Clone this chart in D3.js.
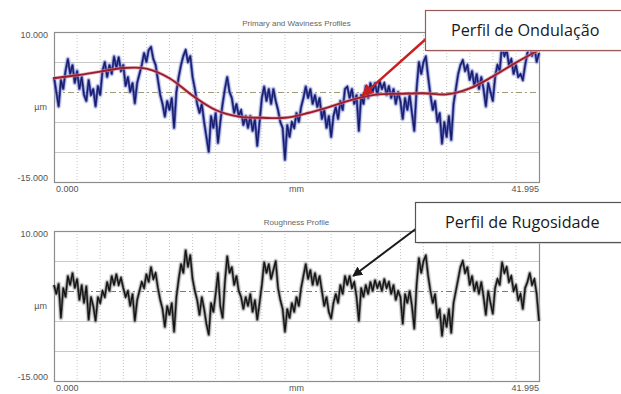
<!DOCTYPE html>
<html>
<head>
<meta charset="utf-8">
<script src="https://cdn.jsdelivr.net/npm/d3@7"></script>
<style>
  html, body { margin: 0; padding: 0; background: #fff; }
  svg { display: block; font-family: Arial, "Liberation Sans", sans-serif; }
</style>
</head>
<body>
<svg id="chart" width="621" height="394"></svg>
<script>
// Evaluation length (mm) and amplitude range (µm)
const lengthMm = 41.995;
const yDomain = [-15, 10];
const yTickLabels = ["10.000", "-15.000"];
const xTickLabels = ["0.000", "mm", "41.995"];
const panelTitles = ["Primary and Waviness Profiles", "Roughness Profile"];

// Primary profile (µm), evenly spaced along the evaluation length
const primary = [
  2.5, 0.0, -2.4, 2.0, 0.5, 3.5, 5.5, 3.0, 4.5, 1.5, 3.5, 0.5, 2.5, -0.5, -1.5, 2.0, -0.5, 0.5, -2.4, 1.0,
  -0.5, 3.5, 5.0, 2.5, 4.5, 3.0, 5.9, 4.0, 5.8, 3.5, 4.5, 1.0, 2.5, 0.0, 1.5, -1.9, 1.5, 3.0, 4.5, 6.5,
  5.0, 7.0, 7.5, 5.5, 4.5, 2.0, -0.5, -2.0, -4.1, -1.5, -3.0, -1.0, -6.0, 0.0, 2.5, 4.5, 6.0, 7.0, 5.0, 6.0,
  2.5, 0.5, -2.0, -3.5, -2.0, -5.0, -7.5, -10.0, -4.0, -6.0, -3.5, -8.5, -5.0, -2.0, 0.5, 2.5, 0.0, -1.0, -3.5, -2.0,
  -4.0, -3.0, -5.5, -4.0, -6.0, -4.0, -6.5, -4.5, -9.0, -5.0, -1.0, 0.9, -1.5, 0.5, -2.0, 0.5, -1.5, -3.0, -5.0, -6.0,
  -11.3, -5.5, -7.5, -5.0, -6.0, -3.5, -5.0, -2.5, -1.0, 0.9, -1.0, 0.5, -2.0, -0.5, -2.5, -1.0, -4.5, -3.0, -6.0, -4.0,
  -7.5, -4.0, -2.5, -4.5, -1.5, -3.0, 0.5, 0.9, -1.0, 0.5, -2.0, -0.5, -6.5, -0.5, -2.0, 1.0, -1.0, 1.5, 0.0, 1.5,
  -0.5, 1.8, 0.5, 1.5, -0.5, 1.0, -1.0, 0.5, -2.0, 0.0, -1.5, -4.5, -1.0, -3.0, -0.5, -3.5, -6.5, 0.5, 5.0, 3.0,
  5.0, 5.9, 2.5, -0.5, -3.0, -1.5, -5.0, -3.5, -8.6, -5.0, -7.5, -4.0, -8.0, -2.0, 0.5, 3.0, 4.5, 5.3, 3.5, 4.5,
  2.0, 3.5, 1.0, 3.0, 0.5, 2.5, 0.5, -2.4, 1.5, 0.0, -1.5, 2.5, 4.5, 3.5, 8.0, 6.0, 7.0, 4.5, 5.5, 3.0,
  4.5, 2.5, 3.0, 2.0, 4.5, 6.5, 8.0, 6.0, 7.5, 5.0, 6.5
];

// Waviness profile (µm) at 2 mm stations
const wavinessMm = [0, 2, 4, 6, 8, 10, 12, 14, 16, 18, 20, 22, 24, 26, 28, 30, 32, 34, 36, 38, 40, 41.995];
const waviness = [2.3, 2.8, 3.4, 4.0, 3.9, 2.3, -0.6, -3.0, -4.1, -4.3, -4.3, -3.5, -2.4, -1.2, -0.4, -0.3, -0.2, -0.4, 0.6, 2.6, 4.9, 7.0];

// Roughness profile (µm), evenly spaced along the evaluation length
const roughness = [
  1.0, -0.5, 1.2, -4.5, 0.5, -1.0, 2.5, 1.0, 3.0, 0.5, 2.0, -1.5, 1.0, -2.0, 0.8, -4.8, -1.0, -2.5, -5.0, -1.0,
  -2.0, 0.0, -1.0, 1.5, 0.0, 2.5, 1.0, 2.8, 1.0, 2.2, 0.5, -1.0, 0.0, -2.5, -0.5, -5.0, -1.5, 0.0, 1.5, 0.5,
  2.8, 1.5, 4.0, 2.0, 3.0, 0.5, -1.5, -3.0, -6.0, -2.5, -4.0, -2.0, -6.8, -1.0, 2.0, 4.5, 3.0, 6.8, 4.0, 6.0,
  2.0, 0.0, -1.5, -4.0, -1.0, -3.0, -5.5, -7.3, -2.0, -3.5, -0.5, 3.0, -2.5, -4.5, 1.5, 5.8, 3.0, 4.0, 1.0, 2.5,
  0.0, -1.0, -3.0, -1.0, -2.5, -0.5, -3.5, -1.5, -4.8, -2.0, 1.0, 4.8, 3.0, 4.5, 2.0, 3.5, 5.0, 0.5, -1.5, -3.0,
  -6.8, -3.0, -4.5, -2.0, -3.5, -1.0, -2.5, 0.5, 2.5, 4.5, 2.0, 3.5, 1.0, 3.0, 1.0, 2.5, 0.0, -2.5, -1.0, -3.5,
  -4.6, -2.0, -0.5, -2.0, 1.0, -0.5, 2.5, 1.0, 2.5, 0.5, 1.5, -1.0, -5.0, 0.5, -1.0, 1.0, -0.5, 1.5, 0.0, 1.8,
  0.5, 1.5, 0.0, 2.0, 0.5, 1.5, -0.5, 1.0, -1.5, 0.0, -1.0, -5.5, -0.5, -2.0, 0.0, -2.5, -6.3, 1.0, 5.5, 3.0,
  5.0, 5.9, 2.5, 0.0, -2.0, -0.5, -4.5, -3.0, -7.5, -4.0, -6.0, -3.0, -7.0, -2.0, 0.0, 2.0, 4.0, 5.0, 3.0, 4.0,
  1.0, 2.5, 0.0, 1.5, -0.5, 1.5, -1.0, -4.0, 0.0, -2.0, -3.8, 0.5, 2.0, 1.0, 4.8, 3.0, 4.0, 1.5, 2.5, 0.0,
  1.0, -1.5, -0.5, -3.0, 0.5, 1.5, 3.0, 1.0, 2.0, -0.5, -5.0
];

// Call-outs: label, target position along the profile (mm, µm)
const callouts = [
  { label: "Perfil de Ondulação", mm: 26.7, um: -0.6, panel: 0, color: "#c8201e" },
  { label: "Perfil de Rugosidade", mm: 25.9, um: 2.5, panel: 1, color: "#1a1a1a" }
];

const svg = d3.select("#chart");
const margin = { left: 54, right: 539 };
const panels = [
  { top: 32, bottom: 182 },
  { top: 231, bottom: 381 }
];

const x = d3.scaleLinear().domain([0, lengthMm]).range([margin.left, margin.right]);
const ys = panels.map(p => d3.scaleLinear().domain(yDomain).range([p.bottom, p.top]));

const idxX = arr => (d, i) => x(i * lengthMm / (arr.length - 1));

panels.forEach((p, k) => {
  const y = ys[k];
  const g = svg.append("g");

  // vertical grid every 2 mm
  g.append("g").selectAll("line")
    .data(d3.range(2, lengthMm, 2))
    .join("line")
    .attr("x1", d => x(d)).attr("x2", d => x(d))
    .attr("y1", p.top).attr("y2", p.bottom)
    .attr("stroke", "#c4c4c4").attr("stroke-width", 1)
    .attr("stroke-dasharray", "1,2");

  // horizontal grid every 5 µm
  g.append("g").selectAll("line")
    .data([5, -5, -10])
    .join("line")
    .attr("x1", margin.left).attr("x2", margin.right)
    .attr("y1", d => Math.round(y(d)) + 0.5).attr("y2", d => Math.round(y(d)) + 0.5)
    .attr("stroke", "#c8c8c8").attr("stroke-width", 1);

  // mean line
  g.append("line")
    .attr("x1", margin.left).attr("x2", margin.right)
    .attr("y1", Math.round(y(0)) + 0.5).attr("y2", Math.round(y(0)) + 0.5)
    .attr("stroke", k === 0 ? "#9c9c78" : "#7a7a7a").attr("stroke-width", 1)
    .attr("stroke-dasharray", "6,3,2,3");

  // frame
  g.append("rect")
    .attr("x", margin.left + 0.5).attr("y", p.top + 0.5)
    .attr("width", margin.right - margin.left).attr("height", p.bottom - p.top)
    .attr("fill", "none").attr("stroke", "#8c8c8c").attr("stroke-width", 1.2);

  // titles and labels
  g.append("text")
    .attr("x", (margin.left + margin.right) / 2).attr("y", p.top - 6)
    .attr("text-anchor", "middle").attr("font-size", 8).attr("fill", "#666")
    .text(panelTitles[k]);
  g.append("text").attr("x", 48).attr("y", p.top + 6)
    .attr("text-anchor", "end").attr("font-size", 9).attr("fill", "#555").text(yTickLabels[0]);
  g.append("text").attr("x", 48).attr("y", p.bottom - 1)
    .attr("text-anchor", "end").attr("font-size", 9).attr("fill", "#555").text(yTickLabels[1]);
  g.append("text").attr("x", 47).attr("y", (p.top + p.bottom) / 2 + 3)
    .attr("text-anchor", "end").attr("font-size", 9).attr("fill", "#555").text("µm");
  g.append("text").attr("x", x(0) + 2).attr("y", p.bottom + 10)
    .attr("font-size", 9).attr("fill", "#555").text(xTickLabels[0]);
  g.append("text").attr("x", x(lengthMm / 2)).attr("y", p.bottom + 10)
    .attr("text-anchor", "middle").attr("font-size", 9).attr("fill", "#555").text(xTickLabels[1]);
  g.append("text").attr("x", x(lengthMm)).attr("y", p.bottom + 10)
    .attr("text-anchor", "end").attr("font-size", 9).attr("fill", "#555").text(xTickLabels[2]);
});

// profile traces: a soft wide stroke under a fine dark one gives the dense look of the stylus trace
function trace(arr, y, halo, mid, core) {
  const line = d3.line().x(idxX(arr)).y(d => y(d));
  svg.append("path").datum(arr).attr("d", line)
    .attr("fill", "none").attr("stroke", halo).attr("stroke-width", 5)
    .attr("stroke-linejoin", "round").attr("opacity", 0.55);
  svg.append("path").datum(arr).attr("d", line)
    .attr("fill", "none").attr("stroke", mid).attr("stroke-width", 2.6)
    .attr("stroke-linejoin", "round").attr("opacity", 0.8);
  svg.append("path").datum(arr).attr("d", line)
    .attr("fill", "none").attr("stroke", core).attr("stroke-width", 1.2)
    .attr("stroke-linejoin", "miter");
}
trace(primary, ys[0], "#aab2e0", "#3a44a8", "#161a66");
trace(roughness, ys[1], "#b8b8b8", "#555", "#111");

// waviness mean line
const wLine = d3.line()
  .x((d, i) => x(wavinessMm[i])).y(d => ys[0](d))
  .curve(d3.curveCatmullRom.alpha(0.5));
svg.append("path").datum(waviness).attr("d", wLine)
  .attr("fill", "none").attr("stroke", "#d88a96").attr("stroke-width", 3.4).attr("opacity", 0.7);
svg.append("path").datum(waviness).attr("d", wLine)
  .attr("fill", "none").attr("stroke", "#9a1c2e").attr("stroke-width", 1.9);

// call-out boxes with arrows
const defs = svg.append("defs");
callouts.forEach((c, k) => {
  defs.append("marker")
    .attr("id", "head" + k).attr("viewBox", "0 0 10 10")
    .attr("refX", 9).attr("refY", 5)
    .attr("markerWidth", 5).attr("markerHeight", 5)
    .attr("orient", "auto-start-reverse")
    .append("path").attr("d", "M0,0 L10,5 L0,10 Z").attr("fill", c.color);
});

const boxes = [
  { x: 425, y: 10, w: 200, h: 40, stroke: "#9a5a5a", tx: 451, ty: 36 },
  { x: 415, y: 202, w: 210, h: 40, stroke: "#555", tx: 445, ty: 228 }
];
callouts.forEach((c, k) => {
  const b = boxes[k];
  const tx = x(c.mm), ty = ys[c.panel](c.um);
  svg.append("line")
    .attr("x1", b.x + 2).attr("y1", b.y + (k === 0 ? 28 : 26))
    .attr("x2", tx).attr("y2", ty)
    .attr("stroke", c.color).attr("stroke-width", k === 0 ? 2.4 : 2)
    .attr("marker-end", `url(#head${k})`);
  svg.append("rect")
    .attr("x", b.x + 2).attr("y", b.y + 2).attr("width", b.w).attr("height", b.h)
    .attr("fill", "#d8d0d0").attr("opacity", 0.6);
  svg.append("rect")
    .attr("x", b.x + 0.5).attr("y", b.y + 0.5).attr("width", b.w).attr("height", b.h)
    .attr("fill", "#fff").attr("stroke", b.stroke).attr("stroke-width", 1.2);
  svg.append("text")
    .attr("x", b.tx).attr("y", b.ty)
    .attr("font-family", "'Open Sans', 'Noto Sans', sans-serif")
    .attr("font-size", 16.2).attr("fill", "#1a1a1a")
    .text(c.label);
});
</script>
</body>
</html>
